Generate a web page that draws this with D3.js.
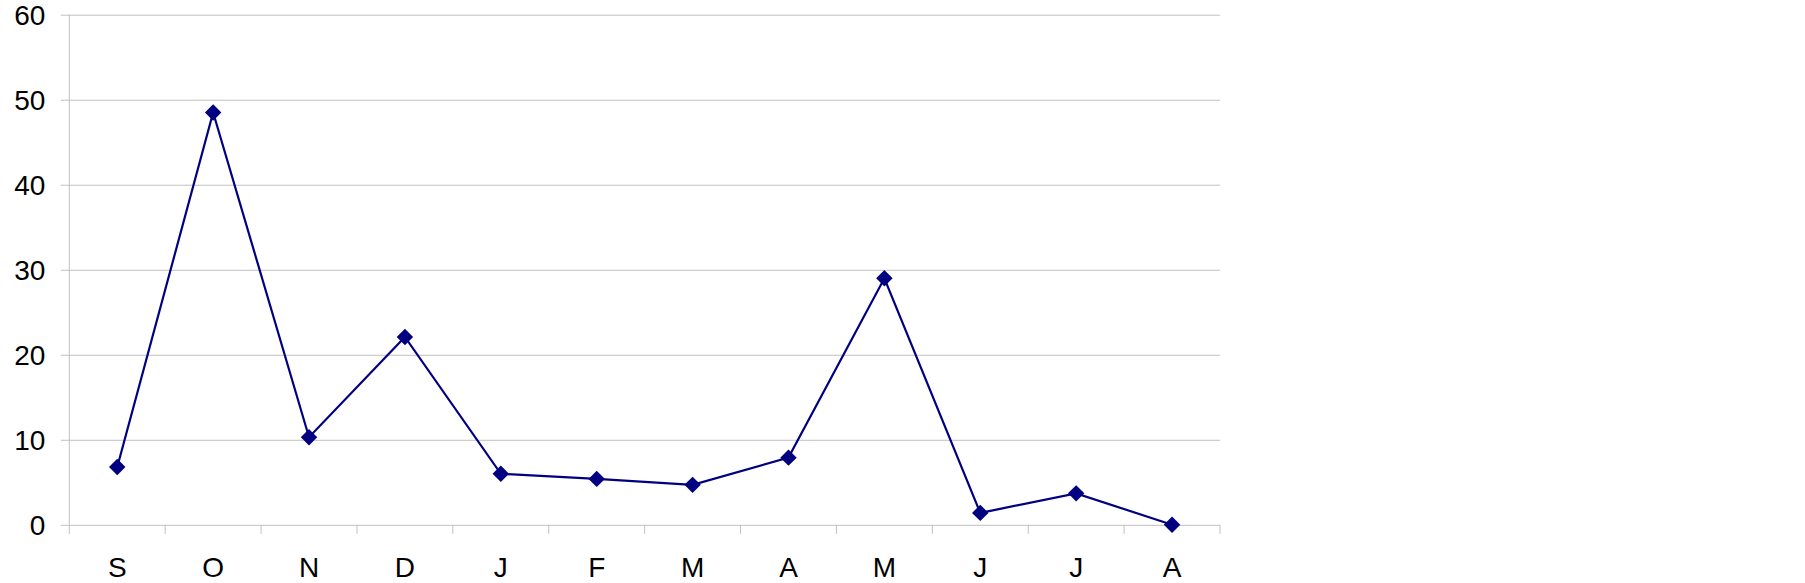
<!DOCTYPE html>
<html>
<head>
<meta charset="utf-8">
<script src="https://cdn.jsdelivr.net/npm/d3@7"></script>
<style>
  body { margin: 0; background: #fff; }
  text { font-family: "Liberation Sans", Arial, sans-serif; }
</style>
</head>
<body>
<div id="container"></div>
<script>
// Month initials (Sep .. Aug) and the values
const months = ["S", "O", "N", "D", "J", "F", "M", "A", "M", "J", "J", "A"];
const values = [6.8, 48.5, 10.3, 22.1, 6.0, 5.4, 4.7, 7.9, 29.0, 1.4, 3.7, 0];
const yTicks = [0, 10, 20, 30, 40, 50, 60];

const width = 1805, height = 583;
const margin = { top: 14.7, right: 585, bottom: 58.2, left: 69.3 };
const innerW = width - margin.left - margin.right;
const innerH = height - margin.top - margin.bottom;

const gridColor = "#c0c0c0";
const lineColor = "#000080";

const svg = d3.create("svg")
  .attr("width", width)
  .attr("height", height);

const g = svg.append("g")
  .attr("transform", `translate(${margin.left},${margin.top})`);

// Scales
const x = d3.scaleBand()
  .domain(d3.range(months.length))
  .range([0, innerW]);

const y = d3.scaleLinear()
  .domain([0, 60])
  .range([innerH, 0]);

// Horizontal gridlines + y labels
const yAxis = g.append("g")
  .call(d3.axisLeft(y).tickValues(yTicks).tickSize(-innerW).tickPadding(0).tickFormat(d3.format("d")));
yAxis.select(".domain").remove();
yAxis.selectAll(".tick line")
  .attr("x1", -8.5)
  .attr("stroke", gridColor)
  .attr("stroke-width", 1);
yAxis.selectAll(".tick text")
  .attr("x", -24)
  .attr("dy", "0.35em")
  .attr("fill", "#000")
  .attr("font-size", 28);

// vertical axis line
g.append("line")
  .attr("x1", 0).attr("x2", 0)
  .attr("y1", 0).attr("y2", innerH)
  .attr("stroke", gridColor);

// Category ticks at band boundaries
const bounds = d3.range(months.length + 1).map(i => i * x.bandwidth());
g.selectAll(".xtick")
  .data(bounds)
  .enter().append("line")
  .attr("class", "xtick")
  .attr("x1", d => d).attr("x2", d => d)
  .attr("y1", innerH).attr("y2", innerH + 9)
  .attr("stroke", gridColor);

// Category labels
g.selectAll(".xlabel")
  .data(months)
  .enter().append("text")
  .attr("class", "xlabel")
  .attr("x", (d, i) => x(i) + x.bandwidth() / 2)
  .attr("y", innerH + 52)
  .attr("text-anchor", "middle")
  .attr("font-size", 28)
  .text(d => d);

// Series line
const line = d3.line()
  .x((d, i) => x(i) + x.bandwidth() / 2)
  .y(d => y(d));

g.append("path")
  .datum(values)
  .attr("d", line)
  .attr("fill", "none")
  .attr("stroke", lineColor)
  .attr("stroke-width", 2.2);

// Diamond markers
const diamond = d3.symbol().type(d3.symbolSquare).size(135);
g.selectAll(".marker")
  .data(values)
  .enter().append("path")
  .attr("class", "marker")
  .attr("d", diamond)
  .attr("transform", (d, i) => `translate(${x(i) + x.bandwidth() / 2},${y(d)}) rotate(45)`)
  .attr("fill", lineColor);

document.getElementById("container").append(svg.node());
</script>
</body>
</html>
